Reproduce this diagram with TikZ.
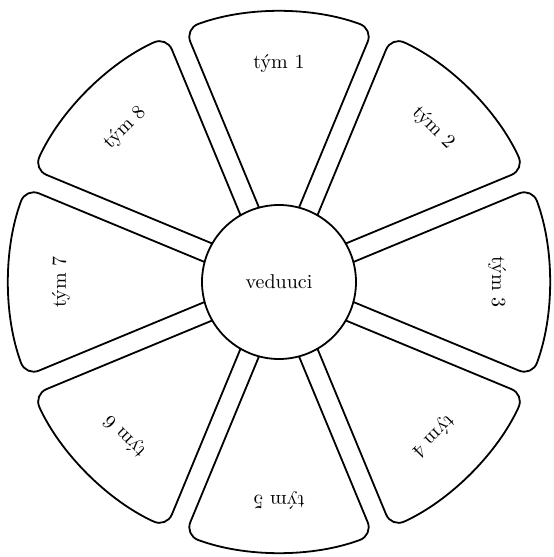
\documentclass[tikz,border=0pt]{standalone}
\usepackage{fontspec}
\usepackage{tikz}
\usetikzlibrary{positioning,calc}

\tikzset{
  segment/.style={draw,line width=0.9pt,fill=white,rounded corners=7pt},
  hub/.style={circle,draw,line width=0.9pt,fill=white,minimum size=77pt,inner sep=0pt},
  teamlabel/.style={font=\normalsize}
}

\begin{document}
\begin{tikzpicture}[x=0.5pt,y=0.5pt]
        \useasboundingbox (-279,-275) rectangle (274,282);
        \foreach \n in {1,...,8} {
            \pgfmathsetmacro{\a}{90-45*(\n-1)}
            \draw[segment] ($(\a+22.5-90:10)+(\a+22.5:60)$) -- (\a+22.5-2.12:270)
                arc[start angle=\a+22.5-2.12, end angle=\a-22.5+2.12, radius=270]
                -- ($(\a-22.5+90:10)+(\a-22.5:60)$) -- cycle;
            \node[teamlabel,rotate=\a-90] (team\n) at (\a:218) {tým \n};
        }
        \node[hub] (lead) at (0,0) {veduuci};
    \end{tikzpicture}
\end{document}
